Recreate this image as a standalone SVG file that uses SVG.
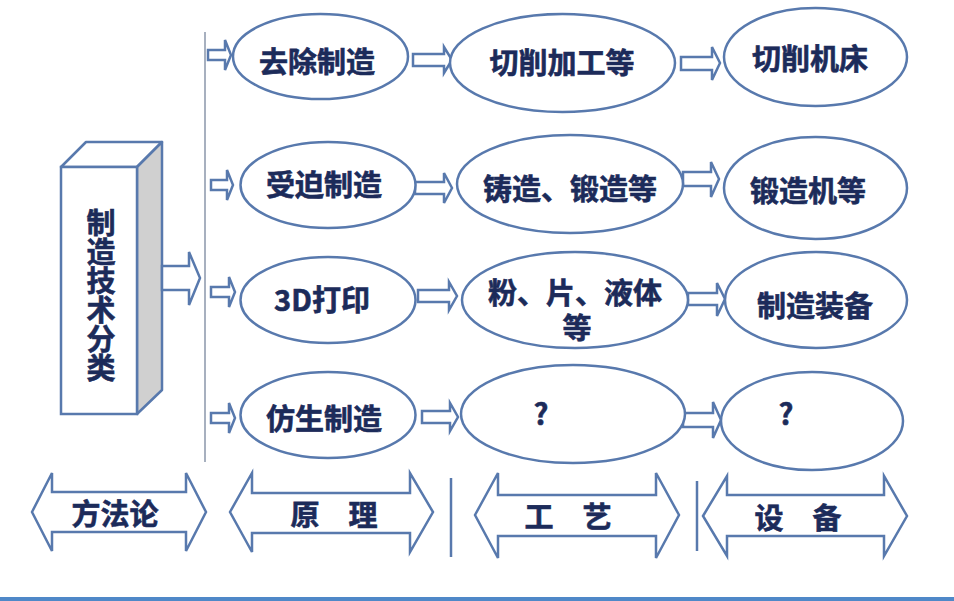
<svg xmlns="http://www.w3.org/2000/svg" width="954" height="601" viewBox="0 0 954 601">
<style>
.n{fill:#fff;stroke:#5879ad;stroke-width:2.5}
.a{fill:#fff;stroke:#5879ad;stroke-width:2.5;stroke-linejoin:miter}
.t{font-family:"Noto Sans CJK SC","Noto Sans",sans-serif;font-weight:bold;font-size:29px;fill:#1c2b5a;stroke:#1c2b5a;stroke-width:0.6;text-anchor:middle;dominant-baseline:central}
</style>
<rect width="954" height="601" fill="#fff"/>
<line x1="205" y1="32" x2="205" y2="462" stroke="#8a96aa" stroke-width="1.5"/>
<line x1="451" y1="478" x2="451" y2="557" stroke="#5879ad" stroke-width="2.5"/>
<line x1="697" y1="481" x2="697" y2="551" stroke="#5879ad" stroke-width="2.5"/>
<rect x="0" y="597" width="954" height="4" fill="#4f88c8"/>

<g id="box">
<polygon points="61,167 137,167 162,142 86,142" fill="#fff" stroke="#5879ad" stroke-width="2.5" stroke-linejoin="round"/>
<polygon points="137,167 162,142 162,390 137,414" fill="#d0d0d0" stroke="#5879ad" stroke-width="2.5" stroke-linejoin="round"/>
<rect x="61" y="167" width="76" height="247" fill="#fff" stroke="#5879ad" stroke-width="2.5"/>
<text class="t" x="101" y="295" style="writing-mode:vertical-rl;dominant-baseline:auto">制造技术分类</text>
</g>

<g id="connectors">
<path class="a" d="M162,266 L189,266 L189,252 L200,278 L189,305 L189,290 L162,290 Z"/>
<path class="a" d="M208,50 L225,50 L225,40 L231,55 L225,70 L225,60 L208,60 Z"/>
<path class="a" d="M211,180 L227,180 L227,170 L233,185 L227,200 L227,190 L211,190 Z"/>
<path class="a" d="M211,287 L229,287 L229,277 L235,292 L229,307 L229,297 L211,297 Z"/>
<path class="a" d="M211,413 L229,413 L229,403 L235,418 L229,433 L229,423 L211,423 Z"/>
<path class="a" d="M413,54 L444,54 L444,47 L452,60 L444,73 L444,66 L413,66 Z"/>
<path class="a" d="M681,57 L712,57 L712,47 L720,63 L712,80 L712,70 L681,70 Z"/>
<path class="a" d="M415,182 L444,182 L444,173 L452,188 L444,203 L444,194 L415,194 Z"/>
<path class="a" d="M683,172 L711,172 L711,162 L719,179 L711,197 L711,186 L683,186 Z"/>
<path class="a" d="M418,290 L449,290 L449,282 L457,296 L449,310 L449,302 L418,302 Z"/>
<path class="a" d="M688,293 L717,293 L717,283 L725,299 L717,316 L717,305 L688,305 Z"/>
<path class="a" d="M422,411 L450,411 L450,403 L458,417 L450,431 L450,423 L422,423 Z"/>
<path class="a" d="M683,413 L713,413 L713,402 L721,420 L713,438 L713,427 L683,427 Z"/>
</g>

<g id="n1"><ellipse class="n" cx="320.5" cy="56.5" rx="87.5" ry="42.5"/><text class="t" x="317" y="60">去除制造</text></g>
<g id="n2"><ellipse class="n" cx="562.5" cy="63" rx="112.5" ry="49"/><text class="t" x="562" y="61">切削加工等</text></g>
<g id="n3"><ellipse class="n" cx="815.5" cy="57" rx="91.5" ry="49"/><text class="t" x="810" y="57">切削机床</text></g>
<g id="n4"><ellipse class="n" cx="328" cy="185" rx="87.5" ry="43"/><text class="t" x="324" y="183">受迫制造</text></g>
<g id="n5"><ellipse class="n" cx="570" cy="184" rx="113" ry="49"/><text class="t" x="570" y="187">铸造、锻造等</text></g>
<g id="n6"><ellipse class="n" cx="815.5" cy="188" rx="91.5" ry="51"/><text class="t" x="808" y="189">锻造机等</text></g>
<g id="n7"><ellipse class="n" cx="328" cy="300" rx="87.5" ry="43"/><text class="t" x="322" y="298">3D打印</text></g>
<g id="n8"><ellipse class="n" cx="575" cy="300" rx="113" ry="48"/><text class="t"><tspan x="575" y="291">粉、片、液体</tspan><tspan x="577" y="326">等</tspan></text></g>
<g id="n9"><ellipse class="n" cx="816" cy="300" rx="91" ry="48"/><text class="t" x="815" y="304">制造装备</text></g>
<g id="n10"><ellipse class="n" cx="328" cy="415" rx="87.5" ry="43"/><text class="t" x="324" y="417">仿生制造</text></g>
<g id="n11"><ellipse class="n" cx="573" cy="414" rx="112" ry="49"/><text class="t" x="541" y="412">?</text></g>
<g id="n12"><ellipse class="n" cx="812" cy="421" rx="91" ry="49"/><text class="t" x="786" y="412">?</text></g>

<g id="b1"><path class="a" d="M32,512 L52,473 L52,492 L186,492 L186,473 L206,512 L186,551 L186,532 L52,532 L52,551 Z"/><text class="t" x="115" y="512">方法论</text></g>
<g id="b2"><path class="a" d="M230,512 L252,473 L252,493 L410,493 L410,473 L433,512 L410,552 L410,533 L252,533 L252,552 Z"/><text class="t" x="334" y="513">原　理</text></g>
<g id="b3"><path class="a" d="M475,515 L498,473 L498,495 L656,495 L656,473 L679,515 L656,558 L656,536 L498,536 L498,558 Z"/><text class="t" x="568" y="515">工　艺</text></g>
<g id="b4"><path class="a" d="M703,516 L727,476 L727,495 L884,495 L884,476 L907,516 L884,556 L884,536 L727,536 L727,556 Z"/><text class="t" x="798" y="516">设　备</text></g>
</svg>
